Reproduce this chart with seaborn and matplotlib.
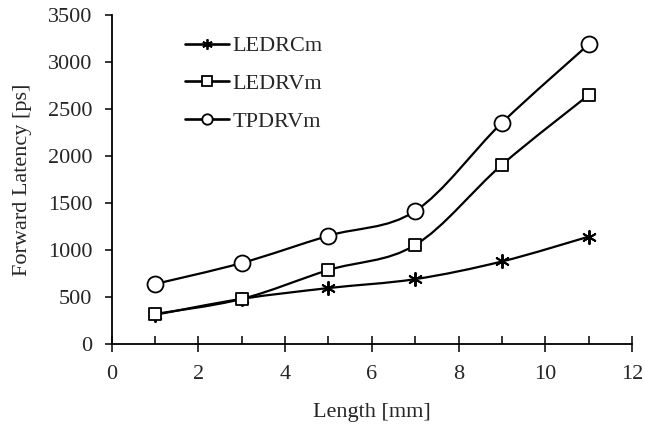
import numpy as np
import matplotlib
matplotlib.use("Agg")
import matplotlib.pyplot as plt
from matplotlib.path import Path
from matplotlib.patches import PathPatch
from matplotlib.lines import Line2D
import seaborn as sns

# data
lengths = [1, 3, 5, 7, 9, 11]
ledrcm = [310, 480, 595, 690, 878, 1142]
ledrvm = [319, 479, 787, 1053, 1907, 2649]
tpdrvm = [638, 862, 1152, 1415, 2354, 3188]

series_names = ["LEDRCm", "LEDRVm", "TPDRVm"]
series_values = [ledrcm, ledrvm, tpdrvm]
series_markers = [(6, 2, 0), "s", "o"]
marker_sizes = [9.5, 8.5, 11.5]
legend_marker_sizes = [7.5, 6.5, 7.5]

sns.set_style("white")
plt.rcParams["font.family"] = ["Liberation Serif", "DejaVu Serif"]

fig = plt.figure(figsize=(6.45, 4.34), dpi=100)
ax = fig.add_axes([0.173, 0.2074, 0.807, 0.758])


def smooth_path(xs, ys):
    # Excel-like smoothed line: cubic Bezier segments through the points
    p = np.column_stack([xs, ys]).astype(float)
    n = len(p)
    verts = [p[0]]
    codes = [Path.MOVETO]
    for i in range(n - 1):
        prev = p[i - 1] if i > 0 else p[i]
        nxt = p[i + 2] if i + 2 < n else p[i + 1]
        c1 = p[i] + (p[i + 1] - prev) / 6.0
        c2 = p[i + 1] - (nxt - p[i]) / 6.0
        verts += [c1, c2, p[i + 1]]
        codes += [Path.CURVE4] * 3
    return Path(verts, codes)


handles = []
for name, vals, mk, ms, lms in zip(series_names, series_values, series_markers,
                                   marker_sizes, legend_marker_sizes):
    ax.add_patch(PathPatch(smooth_path(lengths, vals), facecolor="none",
                           edgecolor="black", lw=1.6, zorder=2))
    if mk == (6, 2, 0):
        sns.scatterplot(x=lengths, y=vals, marker=mk, s=ms ** 2, color="black",
                        linewidth=1.4, ax=ax, zorder=3, legend=False)
    else:
        sns.scatterplot(x=lengths, y=vals, marker=mk, s=ms ** 2, facecolor="white",
                        edgecolor="black", linewidth=1.3, ax=ax, zorder=3, legend=False)
    handles.append(Line2D([], [], color="black", lw=1.9, marker=mk, markersize=lms,
                          markerfacecolor="white", markeredgecolor="black",
                          markeredgewidth=1.3, label=name))

ax.set_xlim(0, 12)
ax.set_ylim(0, 3500)
ax.set_xticks(range(0, 13, 2))
ax.set_xticks(range(1, 12, 2), minor=True)
ax.set_yticks(range(0, 3501, 500))

for s in ["top", "right"]:
    ax.spines[s].set_visible(False)
for s in ["left", "bottom"]:
    ax.spines[s].set_color("black")
    ax.spines[s].set_linewidth(1.3)

ax.tick_params(axis="x", which="major", direction="inout", length=12, width=1.3,
               labelsize=16, pad=9, bottom=True)
ax.tick_params(axis="x", which="minor", direction="in", length=6, width=1.3, bottom=True)
ax.tick_params(axis="y", which="major", direction="out", length=5, width=1.3,
               labelsize=16, pad=9, left=True)

ax.set_xlabel("Length [mm]", fontsize=16, labelpad=14)
ax.set_ylabel("Forward Latency [ps]", fontsize=16, labelpad=11)

ax.legend(handles=handles, loc="upper left", bbox_to_anchor=(0.141, 0.937),
          frameon=False, fontsize=16, handlelength=2.0, handletextpad=0.15,
          labelspacing=0.78, borderaxespad=0, borderpad=0)

fig.savefig("out.png", dpi=100)
